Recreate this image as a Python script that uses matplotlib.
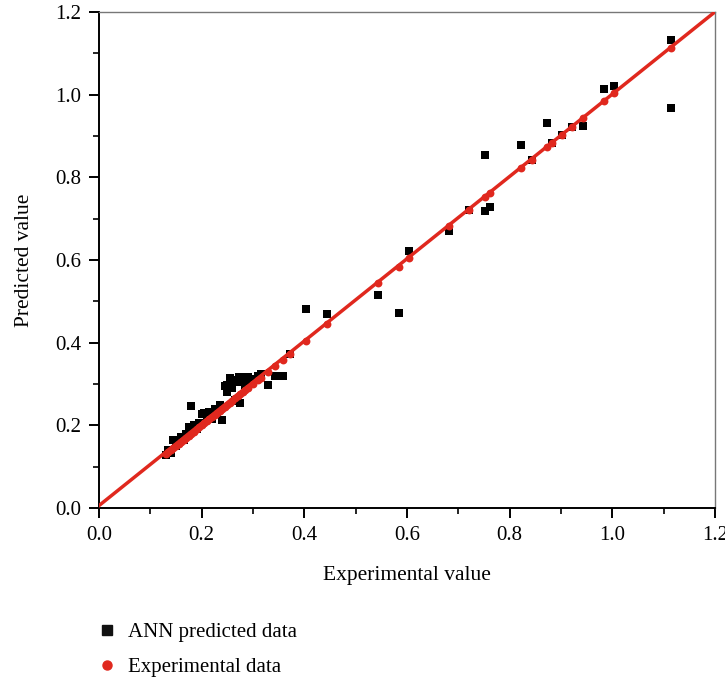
import numpy as np
import matplotlib
matplotlib.use("Agg")
import matplotlib.pyplot as plt
from matplotlib.ticker import MultipleLocator, FormatStrFormatter
from matplotlib.lines import Line2D

plt.rcParams['font.family'] = ['Liberation Serif', 'DejaVu Serif']

# experimental values (x) and ANN predictions (y)
experimental = [0.130, 0.135, 0.140, 0.145, 0.150, 0.155, 0.160, 0.165, 0.170, 0.175,
                0.180, 0.185, 0.190, 0.195, 0.200, 0.205, 0.210, 0.215, 0.220, 0.225,
                0.230, 0.235, 0.240, 0.245, 0.250, 0.255, 0.260, 0.265, 0.270, 0.275,
                0.280, 0.285, 0.290, 0.300, 0.310, 0.315, 0.330, 0.343, 0.358, 0.372,
                0.403, 0.444, 0.544, 0.584, 0.604, 0.682, 0.721, 0.752, 0.762, 0.822,
                0.843, 0.873, 0.882, 0.902, 0.922, 0.943, 0.984, 1.003, 1.114]
ann_predicted = [0.128, 0.140, 0.133, 0.165, 0.150, 0.160, 0.172, 0.165, 0.180, 0.195,
                 0.248, 0.200, 0.190, 0.205, 0.228, 0.230, 0.220, 0.232, 0.215, 0.240,
                 0.228, 0.250, 0.212, 0.295, 0.298, 0.315, 0.290, 0.262, 0.305, 0.255,
                 0.317, 0.300, 0.317, 0.312, 0.320, 0.324, 0.298, 0.319, 0.319, 0.372,
                 0.481, 0.469, 0.515, 0.471, 0.622, 0.670, 0.721, 0.854, 0.728, 0.878,
                 0.843, 0.932, 0.882, 0.902, 0.922, 0.925, 1.014, 1.021, 1.132]
extra_exp = [0.752, 1.114, 0.262, 0.272, 0.250, 0.285, 0.268]
extra_pred = [0.719, 0.968, 0.310, 0.318, 0.280, 0.290, 0.258]

# fitted line y = a*x + b
FIT_SLOPE = 0.995
FIT_INTERCEPT = 0.006

RED = '#e0281e'

fig = plt.figure(figsize=(7.25, 6.8), dpi=100)
ax = fig.add_axes([0.1366, 0.2529, 0.8494, 0.7295])

ax.scatter(experimental + extra_exp, ann_predicted + extra_pred, marker='s', s=30,
           color='black', linewidths=0, zorder=2)
xl = np.array([0.0, 1.2])
ax.plot(xl, FIT_SLOPE * xl + FIT_INTERCEPT, color=RED, lw=2.5, zorder=3)
ax.scatter(experimental, experimental, marker='o', s=32, color=RED,
           linewidths=0, zorder=4)

ax.set_xlim(0, 1.2)
ax.set_ylim(0, 1.2)
ax.xaxis.set_major_locator(MultipleLocator(0.2))
ax.xaxis.set_minor_locator(MultipleLocator(0.1))
ax.yaxis.set_major_locator(MultipleLocator(0.2))
ax.yaxis.set_minor_locator(MultipleLocator(0.1))
ax.xaxis.set_major_formatter(FormatStrFormatter('%.1f'))
ax.yaxis.set_major_formatter(FormatStrFormatter('%.1f'))
ax.tick_params(which='major', direction='out', length=7, width=1.4, labelsize=15,
               top=False, right=False, pad=6)
ax.tick_params(which='minor', direction='out', length=4, width=1.2,
               top=False, right=False)

for s in ['left', 'bottom']:
    ax.spines[s].set_linewidth(1.4)
    ax.spines[s].set_color('black')
for s in ['top', 'right']:
    ax.spines[s].set_linewidth(1.0)
    ax.spines[s].set_color('#777777')

ax.set_xlabel('Experimental value', fontsize=15.5, labelpad=15)
ax.set_ylabel('Predicted value', fontsize=15.5, labelpad=15)

handles = [Line2D([], [], marker='s', color='#111111', ls='none', markersize=7),
           Line2D([], [], marker='o', color=RED, ls='none', markersize=6.5)]
fig.legend(handles, ['ANN predicted data', 'Experimental data'], loc='upper left',
           bbox_to_anchor=(0.107, 0.112), frameon=False, fontsize=15,
           handletextpad=0.5, labelspacing=0.75, handlelength=1.0)

fig.savefig('out.png', dpi=100, facecolor='white')
